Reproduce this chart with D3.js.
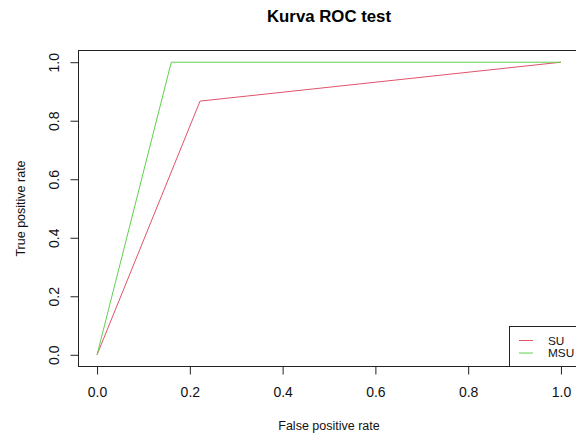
<!DOCTYPE html>
<html>
<head>
<meta charset="utf-8">
<script src="https://cdn.jsdelivr.net/npm/d3@7"></script>
<style>
  html, body { margin: 0; padding: 0; background: #fff; }
  svg { display: block; font-family: "Liberation Sans", Arial, sans-serif; }
</style>
</head>
<body>
<svg id="chart" width="576" height="435"></svg>
<script>
// ROC curve points (false positive rate, true positive rate)
const seriesNames = ["SU", "MSU"];
const seriesColors = ["#DF536B", "#61D04F"];
const suFpr = [0, 0.222, 1];
const suTpr = [0, 0.867, 1];
const msuFpr = [0, 0.16, 1];
const msuTpr = [0, 1, 1];
const xTicks = [0, 0.2, 0.4, 0.6, 0.8, 1.0];
const yTicks = [0, 0.2, 0.4, 0.6, 0.8, 1.0];

const svg = d3.select("#chart");

// plot region (axis range extended by 4% on each side, as in base R)
const box = { left: 78.5, right: 579.5, top: 50.5, bottom: 366.5 };
const padX = (box.right - box.left) * 0.04 / 1.08;
const padY = (box.bottom - box.top) * 0.04 / 1.08;
const x = d3.scaleLinear().domain([0, 1]).range([box.left + padX, box.right - padX]);
const y = d3.scaleLinear().domain([0, 1]).range([box.bottom - padY, box.top + padY]);

// title
svg.append("text")
  .attr("x", (box.left + box.right) / 2).attr("y", 22)
  .attr("text-anchor", "middle")
  .attr("font-weight", "bold").attr("font-size", 16.8)
  .text("Kurva ROC test");

// plot frame
svg.append("rect")
  .attr("x", box.left).attr("y", box.top)
  .attr("width", box.right - box.left).attr("height", box.bottom - box.top)
  .attr("fill", "none").attr("stroke", "#222").attr("stroke-width", 1);

// x axis
const xAxis = d3.axisBottom(x).tickValues(xTicks).tickFormat(d3.format(".1f"))
  .tickSize(8).tickPadding(13);
const gx = svg.append("g").attr("transform", `translate(0,${box.bottom})`).call(xAxis);
gx.select(".domain").remove();
gx.selectAll("line").attr("stroke", "#222");
gx.selectAll("text").attr("font-size", 14).attr("fill", "#111").attr("font-family", null);

// y axis with rotated labels
const yAxis = d3.axisLeft(y).tickValues(yTicks).tickFormat(d3.format(".1f"))
  .tickSize(8).tickPadding(0);
const gy = svg.append("g").attr("transform", `translate(${box.left},0)`).call(yAxis);
gy.select(".domain").remove();
gy.selectAll("line").attr("stroke", "#222");
gy.selectAll("text")
  .attr("font-size", 14).attr("fill", "#111").attr("font-family", null)
  .attr("text-anchor", "middle")
  .attr("x", null)
  .attr("transform", "translate(-24.5,0) rotate(-90)")
  .attr("dy", "0.35em");

// axis titles
svg.append("text")
  .attr("x", (box.left + box.right) / 2).attr("y", 430)
  .attr("text-anchor", "middle").attr("font-size", 12.5).attr("fill", "#111")
  .text("False positive rate");
svg.append("text")
  .attr("transform", `translate(25,${(box.top + box.bottom) / 2}) rotate(-90)`)
  .attr("text-anchor", "middle").attr("font-size", 12.5).attr("fill", "#111")
  .text("True positive rate");

// curves
const line = d3.line().x(d => x(d[0])).y(d => y(d[1]));
const curves = [d3.zip(suFpr, suTpr), d3.zip(msuFpr, msuTpr)];
curves.forEach((pts, i) => {
  svg.append("path").datum(pts)
    .attr("d", line)
    .attr("fill", "none")
    .attr("stroke", seriesColors[i])
    .attr("stroke-width", 1);
});

// legend (bottom right)
const lg = svg.append("g");
lg.append("rect")
  .attr("x", 509.5).attr("y", 326.5).attr("width", 80).attr("height", box.bottom - 326.5)
  .attr("fill", "#fff").attr("stroke", "#222");
seriesNames.forEach((name, i) => {
  const ly = 340.5 + i * 12.5;
  lg.append("line")
    .attr("x1", 519).attr("x2", 533).attr("y1", ly).attr("y2", ly)
    .attr("stroke", seriesColors[i]).attr("stroke-width", 1);
  lg.append("text")
    .attr("x", 548).attr("y", ly).attr("dy", "0.35em")
    .attr("font-size", 11.8).attr("fill", "#111")
    .text(name);
});
</script>
</body>
</html>
